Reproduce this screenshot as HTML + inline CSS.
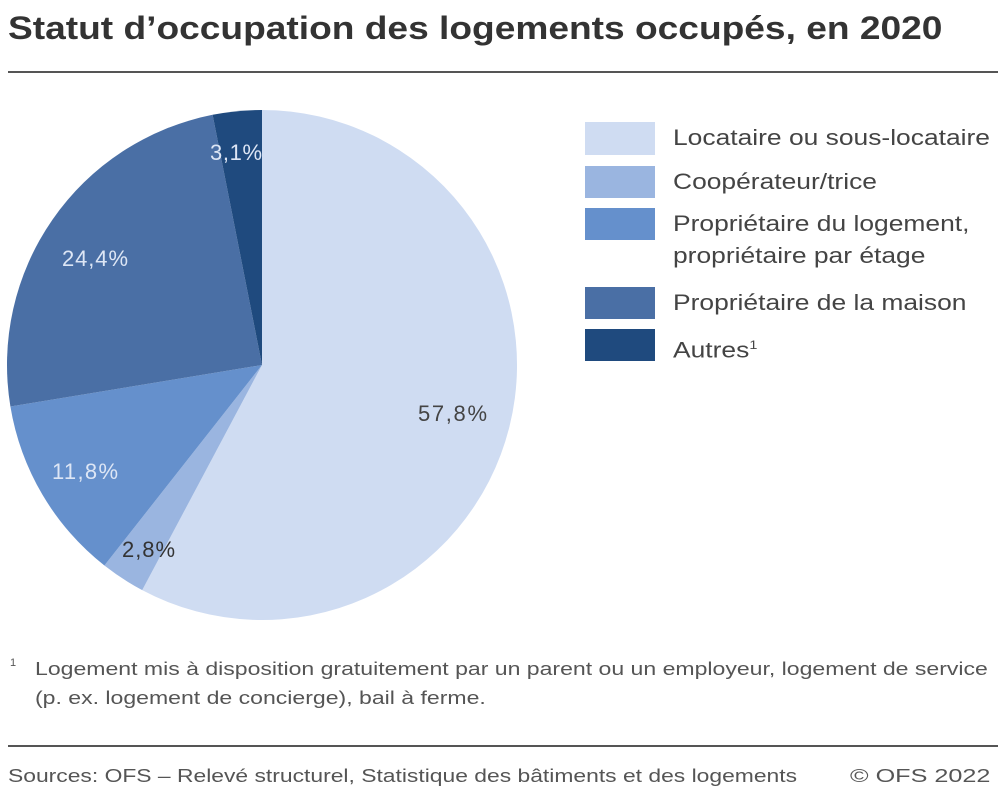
<!DOCTYPE html>
<html><head><meta charset="utf-8"><style>
body{margin:0;width:1006px;height:795px;background:#fff;font-family:"Liberation Sans",sans-serif;color:#333;position:relative;overflow:hidden}
.t{position:absolute;white-space:nowrap;transform-origin:0 0}
.sw{position:absolute;left:585px;width:70px}
.lg{position:absolute;left:673px;font-size:22px;color:#444;line-height:32px;white-space:nowrap;transform:scaleX(1.2);transform-origin:0 0}
</style></head><body>
<div class="t" style="left:8px;top:10px;font-size:32px;font-weight:bold;color:#333;transform:scaleX(1.16)">Statut d’occupation des logements occupés, en 2020</div>
<div style="position:absolute;left:8px;top:71px;width:990px;height:2px;background:#555"></div>
<svg width="1006" height="795" style="position:absolute;left:0;top:0">
<path d="M262,365 L262,110 A255,255 0 1 1 142.2,590.1 Z" fill="#cfdcf2"/>
<path d="M262,365 L142.2,590.1 A255,255 0 0 1 104.4,565.5 Z" fill="#9ab5e0"/>
<path d="M262,365 L104.4,565.5 A255,255 0 0 1 10.4,406.5 Z" fill="#6590cc"/>
<path d="M262,365 L10.4,406.5 A255,255 0 0 1 212.6,114.8 Z" fill="#4a6fa5"/>
<path d="M262,365 L212.6,114.8 A255,255 0 0 1 262,110 Z" fill="#1f4a7e"/>
<g font-family="Liberation Sans" font-size="22">
<text x="418" y="421" fill="#444" textLength="69">57,8%</text>
<text x="122" y="557" fill="#333" textLength="53">2,8%</text>
<text x="52" y="479" fill="#dde6f5" textLength="66">11,8%</text>
<text x="62" y="266" fill="#dde6f5" textLength="66">24,4%</text>
<text x="210" y="160" fill="#dde6f5" textLength="52">3,1%</text>
</g>
</svg>
<div class="sw" style="top:122px;height:33px;background:#cfdcf2"></div>
<div class="sw" style="top:166px;height:32px;background:#9ab5e0"></div>
<div class="sw" style="top:208px;height:32px;background:#6590cc"></div>
<div class="sw" style="top:287px;height:32px;background:#4a6fa5"></div>
<div class="sw" style="top:329px;height:32px;background:#1f4a7e"></div>
<div class="lg" style="top:122px">Locataire ou sous-locataire</div>
<div class="lg" style="top:166px">Coopérateur/trice</div>
<div class="lg" style="top:208px">Propriétaire du logement,<br>propriétaire par étage</div>
<div class="lg" style="top:287px">Propriétaire de la maison</div>
<div class="lg" style="top:329px">Autres<sup style="font-size:12px">1</sup></div>
<div class="t" style="left:10px;top:657px;font-size:11px;color:#555">1</div>
<div class="t" style="left:35px;top:655px;font-size:18px;color:#555;line-height:29px;transform:scaleX(1.28)">Logement mis à disposition gratuitement par un parent ou un employeur, logement de service<br>(p. ex. logement de concierge), bail à ferme.</div>
<div style="position:absolute;left:8px;top:745px;width:990px;height:2px;background:#555"></div>
<div class="t" style="left:8px;top:766px;font-size:18px;color:#555;transform:scaleX(1.27)">Sources: OFS – Relevé structurel, Statistique des bâtiments et des logements</div>
<div class="t" style="left:850px;top:766px;font-size:18px;color:#555;transform:scaleX(1.4)">© OFS 2022</div>
</body></html>
